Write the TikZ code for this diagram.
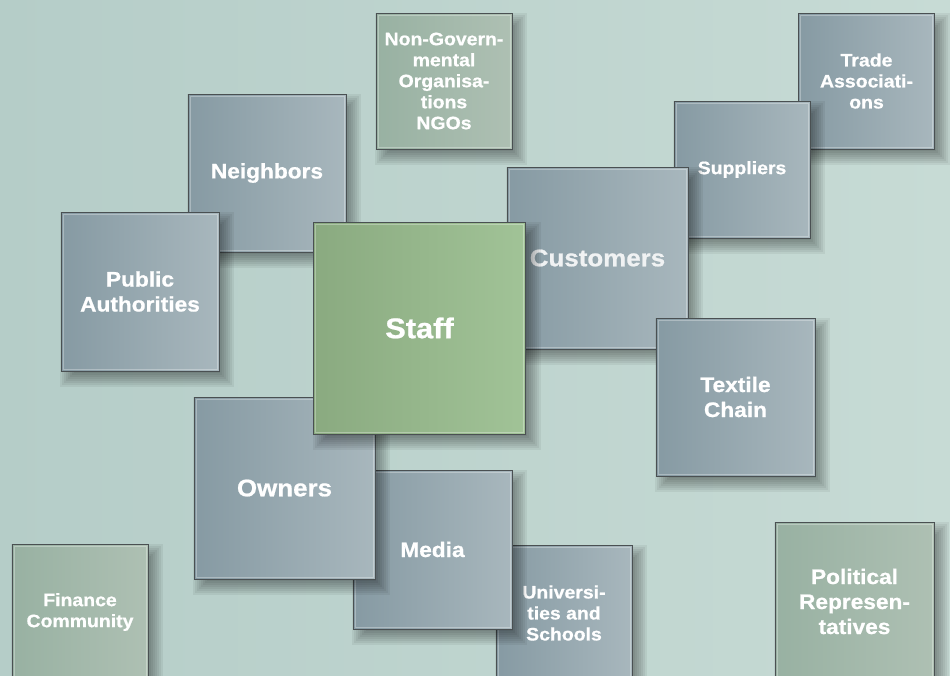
\documentclass[tikz,border=0pt]{standalone}
\usepackage{fontspec}
\newfontfamily\panelfont{Liberation Sans}[FakeStretch=1.08, BoldFeatures={FakeBold=0.8}]
\definecolor{bgL}{HTML}{B5CDC8}
\definecolor{bgR}{HTML}{C7DBD5}
\definecolor{slateL}{HTML}{869AA3}
\definecolor{slateR}{HTML}{A8B7BD}
\definecolor{leafL}{HTML}{8AAA80}
\definecolor{leafR}{HTML}{A1C397}
\definecolor{sageL}{HTML}{98B1A2}
\definecolor{sageR}{HTML}{AEC0B3}
\definecolor{panelline}{HTML}{4A5052}
\definecolor{softwhite}{HTML}{F0F2F3}

% #1 name, #2 cx, #3 cy, #4 width, #5 height, #6 styles, #7 label
\newcommand\panel[7]{%
  \foreach \e in {-8,-6,...,8}{%
    \fill[black,opacity=0.055] ({#2-#4/2+7+\e},{#3-#5/2+8+\e}) rectangle ({#2+#4/2+7-\e},{#3+#5/2+8-\e});
  }%
  \node[panel,#6,minimum width=#4pt,minimum height=#5pt] (#1) at (#2,#3) {#7};
  \draw[hilite] ([shift={(2.5pt,-2.5pt)}]#1.north west) rectangle ([shift={(-2.5pt,2.5pt)}]#1.south east);
}

\begin{document}
\begin{tikzpicture}[x=1pt,y=-1pt,
  panel/.style={draw=panelline, line width=0.9pt, inner sep=0pt, align=center, text=white},
  slate/.style={left color=slateL, right color=slateR},
  leaf/.style={left color=leafL, right color=leafR},
  sage/.style={left color=sageL, right color=sageR},
  hilite/.style={draw=white, draw opacity=0.3, line width=0.8pt},
  txtS/.style={font=\panelfont\bfseries\fontsize{18}{21}\selectfont},
  txtM/.style={font=\panelfont\bfseries\fontsize{21}{25}\selectfont},
  txtL/.style={font=\panelfont\bfseries\fontsize{24}{28}\selectfont},
  txtXL/.style={font=\panelfont\bfseries\fontsize{28.5}{33}\selectfont}]

\useasboundingbox (0,0) rectangle (950,675);
\clip (0,0) rectangle (950,675);
\fill[left color=bgL, right color=bgR] (0,0) rectangle (950,675);

% panels, from the back to the front
\panel{ngo}{444}{81}{136}{136}{sage,txtS}{Non-Govern-\\mental\\Organisa-\\tions\\NGOs}
\panel{trade}{866.5}{81}{136}{136}{slate,txtS}{Trade\\Associati-\\ons}
\panel{suppliers}{742}{169.5}{136}{137}{slate,txtS}{Suppliers}
\panel{customers}{597.5}{258}{181}{182}{slate,txtL,text=softwhite}{Customers}
\panel{textile}{735.5}{397}{159}{158}{slate,txtM}{Textile\\Chain}
\panel{neighbors}{267}{173}{158}{158}{slate,txtM}{Neighbors}
\panel{public}{140}{291.5}{158}{159}{slate,txtM}{Public\\Authorities}
\panel{schools}{564}{613}{136}{136}{slate,txtS}{Universi-\\ties and\\Schools}
\panel{media}{432.5}{549.5}{159}{159}{slate,txtM}{Media}
\panel{owners}{284.5}{488}{181}{182}{slate,txtL}{Owners}
\panel{staff}{419.5}{328}{212}{212}{leaf,txtXL}{Staff}
\panel{finance}{80}{612}{136}{136}{sage,txtS}{Finance\\Community}
\panel{political}{854.5}{601.5}{159}{159}{sage,txtM}{Political\\Represen-\\tatives}
\end{tikzpicture}
\end{document}
